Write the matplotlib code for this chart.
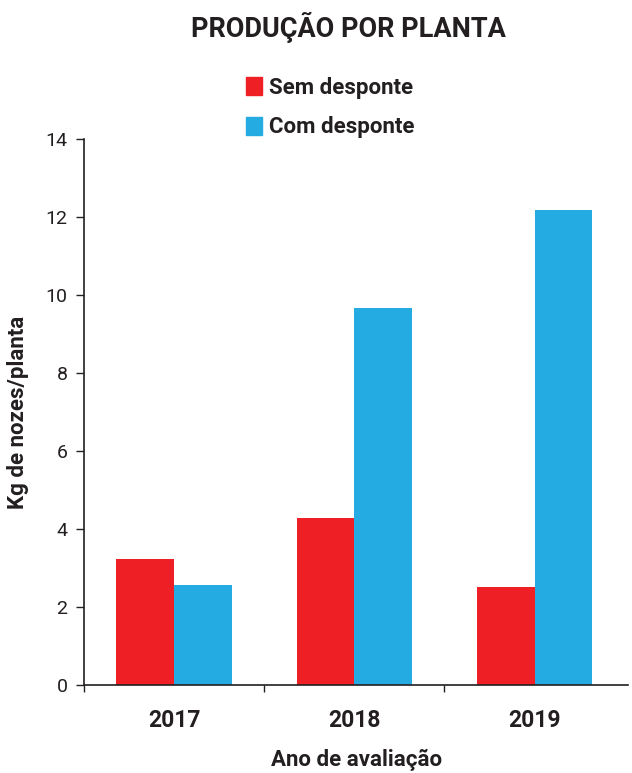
import matplotlib

matplotlib.use("Agg")
import matplotlib.pyplot as plt
import numpy as np
from matplotlib.patches import Patch

plt.rcParams["font.family"] = ["Roboto", "DejaVu Sans"]

anos = ["2017", "2018", "2019"]
sem_desponte = [3.24, 4.29, 2.52]
com_desponte = [2.57, 9.67, 12.19]

cor_sem = "#ee1f25"
cor_com = "#23abe2"
texto = "#231f20"

fig = plt.figure(figsize=(6.32, 7.73), dpi=100)
ax = fig.add_axes([0.133, 0.1135, 0.861, 0.7065])

x = np.arange(len(anos))
largura = 0.32
ax.bar(x - largura / 2, sem_desponte, largura, color=cor_sem, label="Sem desponte")
ax.bar(x + largura / 2, com_desponte, largura, color=cor_com, label="Com desponte")

ax.set_xlim(-0.5, 2.52)
ax.set_ylim(0, 14)
ax.set_yticks(range(0, 15, 2))
ax.tick_params(axis="y", labelsize=14, colors=texto, length=6, width=1, pad=6)

# ticks do eixo x ficam entre as categorias
ax.set_xticks([-0.5, 0.5, 1.5])
ax.set_xticklabels([])
ax.set_xticks(x, minor=True)
ax.set_xticklabels(anos, minor=True, fontsize=16.5, fontweight="bold", color=texto)
ax.tick_params(axis="x", which="major", length=5, width=1, colors=texto)
ax.tick_params(axis="x", which="minor", length=0, pad=17)

for spine in ("top", "right"):
    ax.spines[spine].set_visible(False)
for spine in ("left", "bottom"):
    ax.spines[spine].set_color(texto)
    ax.spines[spine].set_linewidth(1.2)

ax.set_ylabel("Kg de nozes/planta", fontsize=16, fontweight="bold", color=texto, labelpad=12)
ax.set_xlabel("Ano de avaliação", fontsize=16, fontweight="bold", color=texto)
ax.xaxis.label.set_va("center")
ax.xaxis.set_label_coords(0.5, -0.137)

fig.text(0.552, 0.965, "PRODUÇÃO POR PLANTA", ha="center", va="center",
         fontsize=19.5, fontweight="bold", color=texto)

handles = [Patch(color=cor_sem, label="Sem desponte"),
           Patch(color=cor_com, label="Com desponte")]
leg = fig.legend(handles=handles, loc="center left", bbox_to_anchor=(0.372, 0.861),
                 frameon=False, fontsize=16, handlelength=0.72, handleheight=0.85,
                 handletextpad=0.3, labelspacing=0.8, borderpad=0)
for t in leg.get_texts():
    t.set_fontweight("bold")
    t.set_color(texto)

fig.savefig("out.png", dpi=100, facecolor="white")
